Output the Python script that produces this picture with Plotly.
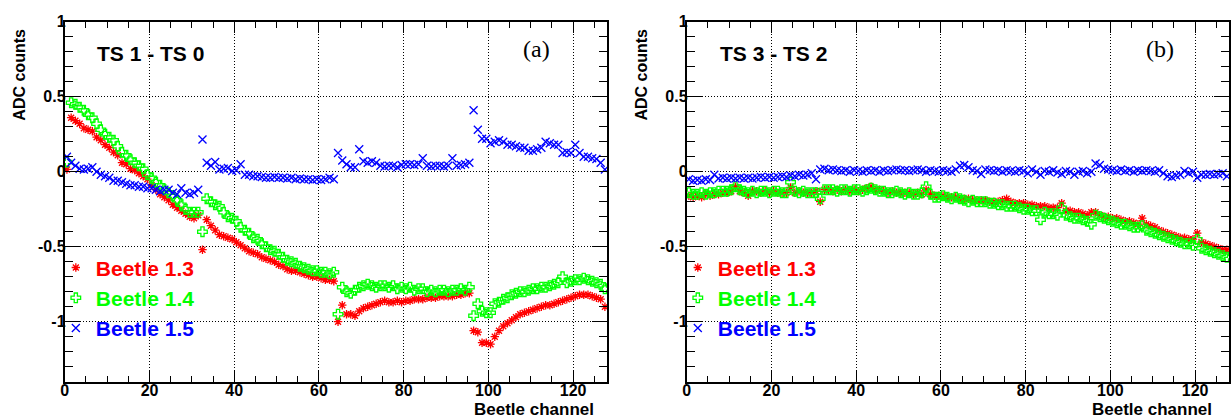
import plotly.graph_objects as go

# ---------------- data ----------------
channels = list(range(128))

left_b13 = [0.015, 0.36, 0.34, 0.32, 0.29, 0.28, 0.27, 0.23, 0.21, 0.18, 0.16, 0.13, 0.11, 0.06, 0.05, 0.02,
            0.01, -0.01, -0.03, -0.05, -0.09, -0.12, -0.15, -0.17, -0.19, -0.22, -0.24, -0.26, -0.28, -0.30, -0.31, -0.29,
            -0.52, -0.32, -0.36, -0.39, -0.42, -0.43, -0.44, -0.45, -0.47, -0.49, -0.51, -0.53, -0.54, -0.55, -0.57, -0.58,
            -0.59, -0.60, -0.62, -0.63, -0.65, -0.66, -0.66, -0.67, -0.68, -0.69, -0.70, -0.70, -0.71, -0.72, -0.72, -0.73,
            -1.00, -0.89, -0.95, -0.95, -0.96, -0.93, -0.91, -0.90, -0.89, -0.88, -0.87, -0.86, -0.87, -0.87, -0.86, -0.87,
            -0.86, -0.86, -0.85, -0.85, -0.85, -0.84, -0.84, -0.84, -0.83, -0.83, -0.83, -0.83, -0.82, -0.82, -0.81, -0.81,
            -1.06, -1.07, -1.14, -1.14, -1.15, -1.10, -1.06, -1.03, -1.01, -0.99, -0.97, -0.95, -0.94, -0.93, -0.92, -0.91,
            -0.90, -0.89, -0.89, -0.88, -0.87, -0.86, -0.85, -0.84, -0.83, -0.82, -0.82, -0.82, -0.83, -0.84, -0.85, -0.90]

left_b14 = [0.065, 0.46, 0.45, 0.43, 0.41, 0.38, 0.36, 0.32, 0.28, 0.25, 0.23, 0.21, 0.17, 0.13, 0.11, 0.08,
            0.06, 0.04, 0.02, -0.02, -0.04, -0.07, -0.09, -0.12, -0.14, -0.16, -0.19, -0.22, -0.25, -0.27, -0.27, -0.27,
            -0.40, -0.18, -0.20, -0.22, -0.23, -0.27, -0.30, -0.31, -0.33, -0.37, -0.39, -0.41, -0.44, -0.45, -0.48, -0.50,
            -0.52, -0.53, -0.55, -0.57, -0.59, -0.60, -0.61, -0.63, -0.64, -0.65, -0.66, -0.66, -0.67, -0.67, -0.68, -0.67,
            -0.95, -0.77, -0.80, -0.81, -0.79, -0.77, -0.76, -0.75, -0.76, -0.77, -0.76, -0.76, -0.77, -0.76, -0.78, -0.77,
            -0.78, -0.77, -0.79, -0.78, -0.78, -0.80, -0.79, -0.80, -0.79, -0.79, -0.80, -0.79, -0.79, -0.78, -0.79, -0.77,
            -0.96, -0.88, -0.93, -0.94, -0.94, -0.88, -0.87, -0.85, -0.84, -0.82, -0.81, -0.80, -0.80, -0.79, -0.78, -0.78,
            -0.77, -0.77, -0.76, -0.75, -0.74, -0.70, -0.74, -0.73, -0.72, -0.72, -0.71, -0.72, -0.73, -0.74, -0.75, -0.78]

left_b15 = [0.10, 0.06, 0.04, 0.02, 0.015, 0.02, 0.03, 0.00, -0.02, -0.03, -0.04, -0.06, -0.06, -0.07, -0.08, -0.09,
            -0.09, -0.10, -0.10, -0.11, -0.11, -0.12, -0.13, -0.12, -0.12, -0.14, -0.15, -0.11, -0.14, -0.15, -0.14, -0.12,
            0.215, 0.06, 0.04, 0.065, 0.015, 0.02, 0.025, 0.005, 0.01, 0.05, -0.02, -0.02, -0.03, -0.03, -0.035, -0.04,
            -0.04, -0.035, -0.04, -0.04, -0.045, -0.04, -0.05, -0.045, -0.05, -0.05, -0.055, -0.05, -0.055, -0.05, -0.04, -0.05,
            0.125, 0.075, 0.05, 0.03, 0.03, 0.15, 0.07, 0.06, 0.07, 0.06, 0.04, 0.035, 0.04, 0.04, 0.03, 0.045,
            0.05, 0.05, 0.045, 0.05, 0.09, 0.04, 0.035, 0.04, 0.04, 0.035, 0.04, 0.09, 0.04, 0.045, 0.05, 0.06,
            0.41, 0.28, 0.22, 0.22, 0.19, 0.20, 0.21, 0.20, 0.18, 0.18, 0.17, 0.16, 0.16, 0.14, 0.14, 0.15,
            0.16, 0.20, 0.19, 0.18, 0.18, 0.125, 0.13, 0.125, 0.18, 0.125, 0.10, 0.10, 0.09, 0.085, 0.06, 0.015]

right_b13 = [-0.16, -0.17, -0.16, -0.17, -0.15, -0.16, -0.15, -0.15, -0.14, -0.14, -0.13, -0.10, -0.13, -0.14, -0.16, -0.13,
             -0.13, -0.14, -0.13, -0.14, -0.13, -0.14, -0.14, -0.14, -0.105, -0.14, -0.13, -0.14, -0.14, -0.14, -0.13, -0.20,
             -0.12, -0.12, -0.13, -0.12, -0.13, -0.12, -0.13, -0.12, -0.13, -0.12, -0.11, -0.10, -0.12, -0.12, -0.13, -0.14,
             -0.13, -0.14, -0.14, -0.14, -0.14, -0.15, -0.14, -0.15, -0.12, -0.15, -0.16, -0.16, -0.16, -0.17, -0.17, -0.17,
             -0.18, -0.18, -0.18, -0.19, -0.19, -0.19, -0.19, -0.20, -0.20, -0.20, -0.19, -0.18, -0.20, -0.21, -0.21, -0.21,
             -0.22, -0.22, -0.23, -0.23, -0.23, -0.24, -0.24, -0.24, -0.21, -0.26, -0.26, -0.27, -0.27, -0.28, -0.29, -0.27,
             -0.27, -0.29, -0.30, -0.30, -0.31, -0.31, -0.32, -0.33, -0.33, -0.34, -0.35, -0.31, -0.35, -0.36, -0.37, -0.39,
             -0.40, -0.41, -0.42, -0.43, -0.44, -0.44, -0.45, -0.45, -0.41, -0.47, -0.48, -0.49, -0.50, -0.51, -0.52, -0.52]

right_b14 = [-0.14, -0.15, -0.15, -0.14, -0.15, -0.14, -0.14, -0.13, -0.13, -0.13, -0.12, -0.10, -0.12, -0.13, -0.14, -0.13,
             -0.14, -0.13, -0.13, -0.14, -0.13, -0.13, -0.14, -0.14, -0.07, -0.13, -0.14, -0.13, -0.14, -0.14, -0.14, -0.18,
             -0.12, -0.12, -0.12, -0.13, -0.12, -0.12, -0.13, -0.12, -0.12, -0.13, -0.12, -0.11, -0.12, -0.13, -0.13, -0.14,
             -0.14, -0.13, -0.14, -0.15, -0.14, -0.15, -0.15, -0.14, -0.10, -0.15, -0.17, -0.17, -0.16, -0.17, -0.18, -0.17,
             -0.18, -0.19, -0.20, -0.19, -0.20, -0.20, -0.20, -0.21, -0.21, -0.22, -0.22, -0.23, -0.23, -0.23, -0.24, -0.25,
             -0.25, -0.26, -0.26, -0.32, -0.27, -0.28, -0.28, -0.29, -0.24, -0.29, -0.30, -0.31, -0.31, -0.32, -0.33, -0.35,
             -0.29, -0.30, -0.31, -0.32, -0.33, -0.34, -0.35, -0.35, -0.36, -0.37, -0.37, -0.36, -0.39, -0.40, -0.41, -0.42,
             -0.43, -0.44, -0.45, -0.46, -0.47, -0.48, -0.48, -0.49, -0.45, -0.51, -0.52, -0.53, -0.54, -0.55, -0.56, -0.57]

right_b15 = [-0.05, -0.06, -0.055, -0.06, -0.05, -0.055, -0.02, -0.045, -0.04, -0.045, -0.04, -0.045, -0.04, -0.045, -0.04, -0.045,
             -0.04, -0.035, -0.04, -0.035, -0.04, -0.035, -0.03, -0.035, -0.025, -0.03, -0.02, -0.025, -0.02, -0.01, -0.05, 0.015,
             0.02, 0.01, 0.015, 0.01, 0.005, 0.01, 0.0, 0.01, 0.005, 0.0, 0.01, 0.005, 0.01, 0.0, 0.01, 0.005,
             0.01, 0.015, 0.01, 0.01, 0.005, 0.01, 0.015, 0.01, 0.0, 0.01, 0.005, 0.0, 0.01, 0.005, 0.0, 0.015,
             0.04, 0.045, 0.03, 0.01, 0.005, -0.015, 0.015, 0.01, 0.005, 0.01, 0.0, 0.01, 0.005, 0.0, 0.01, 0.005,
             -0.01, 0.015, 0.0, -0.02, 0.005, 0.0, 0.01, -0.005, -0.015, 0.005, 0.0, -0.02, 0.0, 0.005, -0.01, 0.0,
             0.055, 0.045, 0.02, 0.015, 0.01, 0.005, 0.015, 0.005, 0.01, 0.0, 0.01, 0.005, 0.01, 0.005, 0.0, 0.01,
             -0.01, -0.03, -0.035, -0.025, -0.02, 0.005, -0.01, 0.0, -0.04, -0.02, -0.02, -0.015, -0.02, -0.015, -0.01, -0.03]

series_names = ["Beetle 1.3", "Beetle 1.4", "Beetle 1.5"]
panel_titles = ["TS 1 - TS 0", "TS 3 - TS 2"]
panel_tags = ["(a)", "(b)"]
x_tick_vals = [0, 20, 40, 60, 80, 100, 120]
x_tick_text = ["0", "20", "40", "60", "80", "100", "120"]
y_tick_vals = [-1, -0.5, 0, 0.5, 1]
y_tick_text = ["-1", "-0.5", "0", "0.5", "1"]
x_title = "Beetle channel"
y_title = "ADC counts"

# ---------------- styling ----------------
W, H = 1231, 418
colors = ["#ff0000", "#00ff00", "#0000ff"]
symbols = ["asterisk-open", "cross-open", "x-thin-open"]
sizes = [7, 8, 8]
lwidths = [1.3, 1.3, 1.3]
bold = dict(family="Liberation Sans, Arial, sans-serif", weight="bold", color="black")

def px_x(p):
    return p / W

def px_y(p):
    return 1 - p / H

x_domains = [[px_x(61), px_x(605)], [px_x(685), px_x(1229)]]
y_domain = [px_y(381), px_y(14)]

fig = go.Figure()
panels = [(left_b13, left_b14, left_b15), (right_b13, right_b14, right_b15)]
xc = [c + 0.5 for c in channels]
for p, vals in enumerate(panels):
    for s in range(3):
        fig.add_trace(go.Scatter(
            x=xc, y=vals[s], mode="markers",
            name=f"<span style='color:{colors[s]}'>{series_names[s]}</span>",
            marker=dict(symbol=symbols[s], size=sizes[s], color=colors[s],
                        line=dict(color=colors[s], width=lwidths[s])),
            xaxis="x" if p == 0 else "x2", yaxis="y" if p == 0 else "y2",
            legend="legend" if p == 0 else "legend2",
            hoverinfo="x+y",
        ))

def xaxis(dom, anchor):
    return dict(domain=dom, anchor=anchor, range=[0, 128],
                tickmode="array", tickvals=x_tick_vals, ticktext=x_tick_text,
                ticks="inside", ticklen=11, tickwidth=1, tickcolor="black",
                minor=dict(ticks="inside", dtick=5, tick0=0, ticklen=6, tickwidth=1, tickcolor="black", showgrid=False),
                showline=True, linecolor="black", linewidth=2, mirror="allticks",
                showgrid=True, gridcolor="black", gridwidth=1, griddash="1px,2px",
                zeroline=False, tickfont=dict(size=16, **bold), ticklabelstandoff=-7)

def yaxis(anchor):
    return dict(domain=y_domain, anchor=anchor, range=[-1.4, 1],
                tickmode="array", tickvals=y_tick_vals, ticktext=y_tick_text,
                ticks="inside", ticklen=15, tickwidth=1, tickcolor="black",
                minor=dict(ticks="inside", dtick=0.1, tick0=0, ticklen=8, tickwidth=1, tickcolor="black", showgrid=False),
                showline=True, linecolor="black", linewidth=2, mirror="allticks",
                showgrid=True, gridcolor="black", gridwidth=1, griddash="1px,2px",
                zeroline=False, tickfont=dict(size=16, **bold), ticklabelstandoff=-6)

def legend(xpx):
    return dict(x=px_x(xpx), y=px_y(244), xanchor="left", yanchor="top",
                bgcolor="rgba(0,0,0,0)", borderwidth=0, tracegroupgap=0,
                itemwidth=30,
                font=dict(size=21, **bold), itemclick=False, itemdoubleclick=False)

annotations = []
for p, (tx_left, tag_center, ytitle_x, xtitle_right) in enumerate(
        [(91, 534, 16, 594), (716, 1160, 640, 1214)]):
    annotations.append(dict(xref="paper", yref="paper", x=px_x(tx_left), y=px_y(46),
                            xanchor="left", yanchor="middle", showarrow=False,
                            text=panel_titles[p], font=dict(size=21, **bold)))
    annotations.append(dict(xref="paper", yref="paper", x=px_x(tag_center), y=px_y(42),
                            xanchor="center", yanchor="middle", showarrow=False,
                            text=panel_tags[p],
                            font=dict(family="Liberation Serif, Times New Roman, serif", size=24, color="black")))
    annotations.append(dict(xref="paper", yref="paper", x=px_x(ytitle_x), y=px_y(68),
                            xanchor="center", yanchor="middle", showarrow=False, textangle=-90,
                            text=y_title, font=dict(size=16, **bold)))
    annotations.append(dict(xref="paper", yref="paper", x=px_x(xtitle_right), y=px_y(409),
                            xanchor="right", yanchor="middle", showarrow=False,
                            text=x_title, font=dict(size=17, **bold)))

fig.update_layout(
    width=W, height=H, margin=dict(l=0, r=0, t=0, b=0),
    paper_bgcolor="white", plot_bgcolor="white",
    xaxis=xaxis(x_domains[0], "y"), yaxis=yaxis("x"),
    xaxis2=xaxis(x_domains[1], "y2"), yaxis2=yaxis("x2"),
    legend=legend(52), legend2=legend(676),
    showlegend=True, annotations=annotations,
)

fig.write_html("out.html", post_script="document.body.style.margin='0px';")
